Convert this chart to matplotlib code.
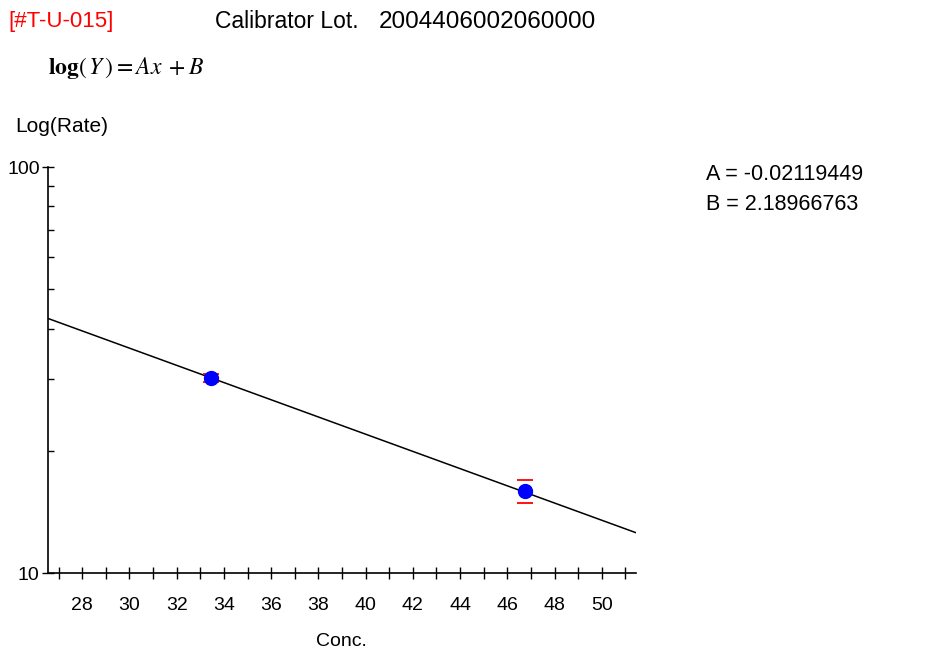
import numpy as np
import matplotlib
matplotlib.use("Agg")
import matplotlib.pyplot as plt
from matplotlib.ticker import FixedLocator, NullFormatter

# fit coefficients
A = -0.02119449
B = 2.18966763

# calibrator points
conc = [33.47, 46.77]
rate = [30.3, 15.9]
rate_err = [0.7, 1.0]

x_ticks = [28, 30, 32, 34, 36, 38, 40, 42, 44, 46, 48, 50]
x_min, x_max = 26.55, 51.45

plt.rcParams['font.family'] = ['Liberation Sans', 'DejaVu Sans']
plt.rcParams['mathtext.fontset'] = 'stix'

fig = plt.figure(figsize=(9.36, 6.6), dpi=100)
ax = fig.add_axes([48/936, 1-573/660, (636-48)/936, (573-167)/660])

xs = np.linspace(x_min, x_max, 400)
ax.plot(xs, 10 ** (A * xs + B), color='black', lw=1.1, zorder=2)

ax.errorbar(conc, rate, yerr=rate_err, fmt='none', ecolor='red',
            elinewidth=0, capsize=6, capthick=1.3, zorder=3)
ax.plot(conc, rate, 'o', color='#0000ff', ms=10, zorder=4)

ax.set_yscale('log')
ax.set_xlim(x_min, x_max)
ax.set_ylim(10, 100)

ax.xaxis.set_major_locator(FixedLocator(x_ticks))
ax.xaxis.set_minor_locator(FixedLocator(np.arange(27, 52, 1)))
ax.yaxis.set_major_locator(FixedLocator([10, 100]))
ax.yaxis.set_minor_locator(FixedLocator([20, 30, 40, 50, 60, 70, 80, 90]))
ax.yaxis.set_minor_formatter(NullFormatter())
ax.set_yticklabels(['10', '100'])

ax.tick_params(axis='x', which='both', direction='inout', length=8, width=1,
               labelsize=14, pad=13)
ax.tick_params(axis='y', which='major', direction='inout', length=8, width=1,
               labelsize=14, pad=2)
ax.tick_params(axis='y', which='minor', direction='in', length=4, width=1)

for s in ['top', 'right']:
    ax.spines[s].set_visible(False)
for s in ['left', 'bottom']:
    ax.spines[s].set_linewidth(1.2)

fig.text(341/936, 1-642/660, 'Conc.', fontsize=14, ha='center', va='center')

fig.text(8/936, 1-22/660, '[#T-U-015]', color='red', fontsize=16, va='center')
fig.text(215/936, 1-22/660, 'Calibrator Lot.', fontsize=16.5, va='center')
fig.text(379/936, 1-22/660, '2004406002060000', fontsize=17.5, va='center')
fig.text(48/936, 1-68/660, r'$\mathbf{log}(\,Y\,) = Ax\;+B$',
         fontsize=17, va='center')
fig.text(15/936, 1-127/660, 'Log(Rate)', fontsize=15, va='center')
fig.text(706/936, 1-175/660, 'A = -0.02119449', fontsize=15.5, va='center')
fig.text(706/936, 1-205/660, 'B = 2.18966763', fontsize=15.5, va='center')

fig.savefig('out.png', dpi=100)
